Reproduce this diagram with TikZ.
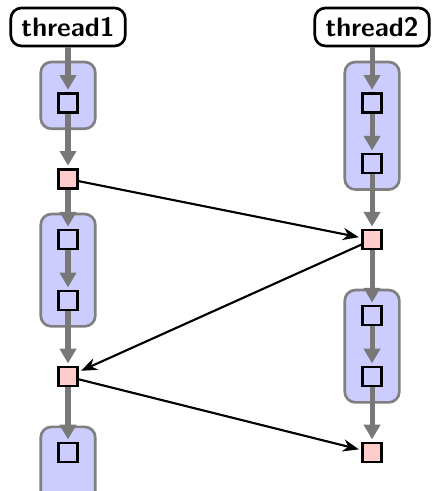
\documentclass[tikz,border=0pt]{standalone}
\usetikzlibrary{arrows,arrows.meta,positioning,fit,calc,backgrounds}

\begin{document}
\begin{tikzpicture}[>={Stealth[length=6pt,width=4.6pt]},shorten >=1pt,auto,node distance=1cm,
    thread/.style={draw,rounded corners=4pt,line width=1pt,font=\sffamily\bfseries,inner xsep=4pt,minimum height=0.5cm},
    task/.style={draw,thick,fill=blue!20,minimum size=0.25cm,inner sep=0pt},
    sync/.style={draw,thick,fill=red!20,minimum size=0.25cm,inner sep=0pt},
    group/.style={draw=black!50,line width=1pt,fill=blue!20,rounded corners=4pt,inner xsep=0.22cm,inner ysep=0.2cm},
    flow/.style={black!53,line width=1.9pt,-{Triangle[length=5.5pt,width=6pt]}},
    msg/.style={->,thick}]
                  \useasboundingbox (-0.895,0.355) rectangle (4.776,-6.105);

                  \node[thread] (t1) []                                   {thread1};
                  \node[thread] (t2) [right of=t1,node distance=4cm]      {thread2};

                  \node[task]   (a1) [below of=t1]                        {};
                  \node[sync]   (a2) [below of=a1]                        {};
                  \node[task]   (a3) [below of=a2,node distance=0.8cm]    {};
                  \node[task]   (a4) [below of=a3,node distance=0.8cm]    {};
                  \node[sync]   (a5) [below of=a4]                        {};
                  \node[task]   (a6) [below of=a5]                        {};

                  \node[task]   (b1) [below of=t2]                        {};
                  \node[task]   (b2) [below of=b1,node distance=0.8cm]    {};
                  \node[sync]   (b3) [below of=b2]                        {};
                  \node[task]   (b4) [below of=b3]                        {};
                  \node[task]   (b5) [below of=b4,node distance=0.8cm]    {};
                  \node[sync]   (b6) [below of=b5]                        {};

                  \begin{scope}[on background layer]
                      \node[group,fit={(a1) ($(a1)+(0,0.34)$)}]      (ga1) {};
                      \node[group,fit={(a3)(a4)}]                    (ga2) {};
                      \node[group,fit={(a6) ($(a6)+(0,-0.6)$)}]      (ga3) {};
                      \node[group,fit={(b1)(b2) ($(b1)+(0,0.34)$)}]  (gb1) {};
                      \node[group,fit={(b4)(b5)}]                    (gb2) {};
                  \end{scope}

                      \draw[flow]
                               (t1) edge (a1)
                               (a1) edge (a2)
                               (a2) edge (a3)
                               (a3) edge (a4)
                               (a4) edge (a5)
                               (a5) edge (a6)
                               (t2) edge (b1)
                               (b1) edge (b2)
                               (b2) edge (b3)
                               (b3) edge (b4)
                               (b4) edge (b5)
                               (b5) edge (b6);

                      \draw[msg]
                               (a2) edge (b3)
                               (b3) edge (a5)
                               (a5) edge (b6);
        \end{tikzpicture}
\end{document}
